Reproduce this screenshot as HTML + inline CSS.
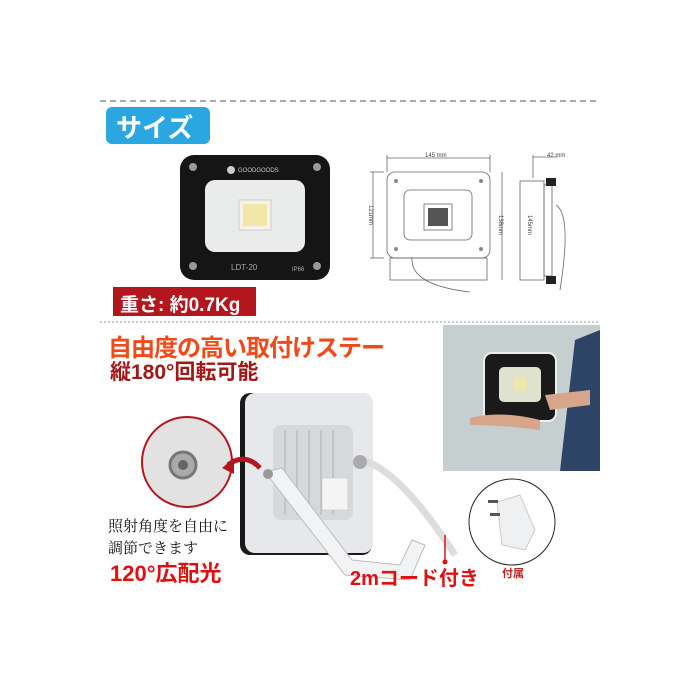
<!DOCTYPE html>
<html><head><meta charset="utf-8"><style>
body{margin:0;width:700px;height:700px;background:#fff;overflow:hidden;position:relative;font-family:"Liberation Sans","Noto Sans CJK JP",sans-serif}
.a{position:absolute;white-space:nowrap}
</style></head><body>
<svg class="a" style="left:0;top:0" width="700" height="700" viewBox="0 0 700 700">
<line x1="100" y1="101" x2="600" y2="101" stroke="#555" stroke-width="1" stroke-dasharray="6,4"/>
<line x1="100" y1="322" x2="600" y2="322" stroke="#999" stroke-width="1" stroke-dasharray="2,2"/>
<rect x="106" y="107" width="104" height="37" rx="6" fill="#2aa6e0"/>
<rect x="180" y="155" width="150" height="125" rx="14" fill="#151515"/>
<rect x="205" y="180" width="100" height="72" rx="10" fill="#e9ecea"/>
<rect x="239" y="200" width="32" height="30" fill="#f6f3e6" stroke="#ccc"/>
<rect x="243" y="204" width="24" height="22" fill="#f1e7a8"/>
<circle cx="193" cy="167" r="4" fill="#999"/><circle cx="317" cy="167" r="4" fill="#999"/>
<circle cx="193" cy="266" r="4" fill="#999"/><circle cx="317" cy="266" r="4" fill="#999"/>
<text x="231" y="270" font-size="8" fill="#aaa" font-family="Liberation Sans">LDT-20</text>
<text x="292" y="271" font-size="6" fill="#aaa" font-family="Liberation Sans">IP66</text>
<circle cx="231" cy="170" r="4" fill="#ccc"/><text x="238" y="172" font-size="6" fill="#ccc" font-family="Liberation Sans">GOODGOODS</text>
<g fill="none" stroke="#666" stroke-width="0.8">
<line x1="387" y1="158" x2="490" y2="158"/><line x1="387" y1="155" x2="387" y2="172"/><line x1="490" y1="155" x2="490" y2="172"/>
<line x1="373" y1="172" x2="373" y2="258"/><line x1="370" y1="172" x2="384" y2="172"/><line x1="370" y1="258" x2="384" y2="258"/>
<line x1="502" y1="172" x2="502" y2="280"/>
<rect x="387" y="172" width="103" height="86" rx="8"/>
<rect x="404" y="190" width="68" height="50" rx="6"/>
<rect x="424" y="204" width="28" height="26"/>
<rect x="390" y="258" width="97" height="22"/>
<path d="M412 258 Q410 285 470 292"/>
<line x1="533" y1="155" x2="533" y2="178"/><line x1="533" y1="157" x2="557" y2="157"/>
<rect x="520" y="181" width="24" height="99"/>
<rect x="544" y="185" width="8" height="91"/>
<path d="M556 205 Q572 215 560 290"/>
</g>
<g fill="#555"><rect x="428" y="208" width="20" height="18"/></g>
<rect x="546" y="178" width="10" height="8" fill="#222"/><rect x="546" y="276" width="10" height="8" fill="#222"/>
<g fill="#888"><circle cx="396" cy="181" r="2"/><circle cx="481" cy="181" r="2"/><circle cx="396" cy="249" r="2"/><circle cx="481" cy="249" r="2"/></g>
<text x="425" y="157" font-size="6" fill="#444" font-family="Liberation Sans">145 mm</text>
<text x="547" y="157" font-size="6" fill="#444" font-family="Liberation Sans">42 mm</text>
<text x="0" y="0" font-size="6" fill="#444" transform="translate(369,205) rotate(90)" font-family="Liberation Sans">121mm</text>
<text x="0" y="0" font-size="6" fill="#444" transform="translate(499,215) rotate(90)" font-family="Liberation Sans">138mm</text>
<text x="0" y="0" font-size="6" fill="#444" transform="translate(528,215) rotate(90)" font-family="Liberation Sans">145mm</text>
<rect x="113" y="287" width="143" height="29" fill="#b3161c"/>
<rect x="443" y="325" width="157" height="146" fill="#c5cfd0"/>
<path d="M575 340 L600 330 L600 471 L560 471 Z" fill="#2d4466"/>
<rect x="484" y="353" width="72" height="68" rx="8" fill="#1a1a1a" stroke="#eee" stroke-width="2"/>
<rect x="499" y="367" width="42" height="35" rx="5" fill="#dde3cf"/>
<rect x="513" y="377" width="14" height="14" fill="#f0e6b0"/>
<path d="M470 418 Q500 410 540 420 L540 430 Q500 425 470 425 Z" fill="#d7a58a"/>
<path d="M545 395 L590 390 L590 405 L550 410 Z" fill="#d7a58a"/>
<rect x="240" y="393" width="132" height="162" rx="10" fill="#1a1a1a"/>
<rect x="245" y="393" width="128" height="160" rx="10" fill="#e6e8eb"/>
<rect x="273" y="425" width="80" height="95" rx="8" fill="#d6d9dc"/>
<g stroke="#c2c5c8" stroke-width="2"><line x1="285" y1="430" x2="285" y2="515"/><line x1="297" y1="430" x2="297" y2="515"/><line x1="309" y1="430" x2="309" y2="515"/><line x1="321" y1="430" x2="321" y2="515"/><line x1="333" y1="430" x2="333" y2="515"/></g>
<rect x="322" y="478" width="26" height="32" fill="#f4f4f4" stroke="#bbb" stroke-width="0.5"/>
<path d="M265 472 L345 575 L410 580 L425 545 L412 540 L400 565 L352 560 L282 468 Z" fill="#f2f3f5" stroke="#bbb"/>
<path d="M362 460 Q400 470 455 555" fill="none" stroke="#ddd" stroke-width="7"/>
<circle cx="360" cy="462" r="7" fill="#aaa"/><circle cx="268" cy="474" r="5" fill="#999"/>
<circle cx="187" cy="462" r="45" fill="#e2e2e2" stroke="#b3161c" stroke-width="2"/>
<circle cx="183" cy="465" r="13" fill="#aaa" stroke="#777" stroke-width="3"/><circle cx="183" cy="465" r="5" fill="#666"/>
<path d="M260 468 Q245 452 228 465" fill="none" stroke="#b3161c" stroke-width="5"/>
<path d="M222 468 L234 458 L234 474 Z" fill="#b3161c"/>
<line x1="445" y1="535" x2="445" y2="562" stroke="#e01010" stroke-width="1.5"/><circle cx="445" cy="562" r="2.5" fill="#e01010"/>
<circle cx="512" cy="522" r="43" fill="#fff" stroke="#222" stroke-width="1"/>
<path d="M497 502 L520 495 L535 530 L525 550 L502 545 Z" fill="#eef0f2" stroke="#ccc"/>
<rect x="488" y="500" width="10" height="3" fill="#555"/><rect x="490" y="513" width="10" height="3" fill="#555"/>
</svg>
<div class="a" style="left:116px;top:108px;font-size:26px;font-weight:bold;color:#fff">サイズ</div>
<div class="a" style="left:120px;top:290px;font-size:19px;font-weight:bold;color:#fff">重さ: 約0.7Kg</div>
<div class="a" style="left:108px;top:328px;font-size:24px;font-weight:bold;color:#f04a1a;letter-spacing:-1px">自由度の高い取付けステー</div>
<div class="a" style="left:110px;top:356px;font-size:21px;font-weight:bold;color:#a01818">縦180°回転可能</div>
<div class="a" style="left:108px;top:515px;font-size:15px;color:#111;font-family:'Liberation Serif','Noto Serif CJK SC',serif">照射角度を自由に</div>
<div class="a" style="left:108px;top:537px;font-size:15px;color:#111;font-family:'Liberation Serif','Noto Serif CJK SC',serif">調節できます</div>
<div class="a" style="left:110px;top:556px;font-size:22px;font-weight:bold;color:#e01010">120°広配光</div>
<div class="a" style="left:350px;top:562px;font-size:20px;font-weight:bold;color:#e01010">2mコード付き</div>
<div class="a" style="left:502px;top:565px;font-size:11px;font-weight:bold;color:#c02020">付属</div>
</body></html>
